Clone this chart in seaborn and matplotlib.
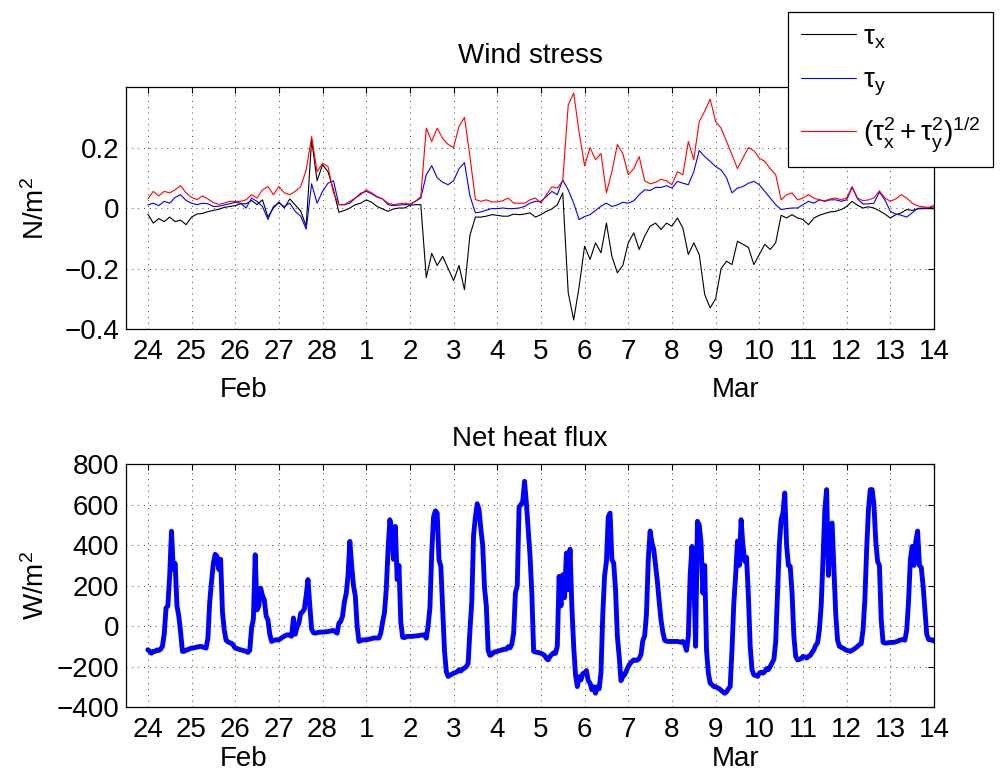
import numpy as np
import pandas as pd
import matplotlib
matplotlib.use("Agg")
import matplotlib.pyplot as plt
import matplotlib.dates as mdates
import matplotlib.transforms as mtransforms
from matplotlib.lines import Line2D
import seaborn as sns

# wind stress components (N/m^2), 3-hourly from 24 Feb 00:00 to 14 Mar 00:00
tau_x = [
    -0.02, -0.05, -0.035, -0.045, -0.03, -0.045, -0.04, -0.055,       # Feb 24
    -0.03, -0.02, -0.018, -0.012, -0.008, -0.004, 0.002, 0.005,       # Feb 25
    0.008, 0.014, 0.014, 0.025, 0.011, 0.027, -0.03, 0.0,             # Feb 26
    0.02, 0.0, 0.03, 0.01, -0.01, -0.06, 0.225, 0.09,                 # Feb 27
    0.143, 0.12, 0.06, -0.014, -0.008, 0.0, 0.011, 0.016,             # Feb 28
    0.027, 0.019, 0.005, -0.003, -0.011, -0.003, 0.0, 0.0,            # Mar 1
    0.009, 0.011, 0.011, -0.23, -0.15, -0.19, -0.16, -0.2,            # Mar 2
    -0.24, -0.19, -0.27, -0.09, -0.03, -0.03, -0.027, -0.022,         # Mar 3
    -0.024, -0.027, -0.027, -0.02, -0.022, -0.02, -0.016, -0.03,      # Mar 4
    -0.022, -0.011, -0.003, 0.011, 0.05, -0.28, -0.37, -0.26,         # Mar 5
    -0.126, -0.17, -0.115, -0.148, -0.05, -0.16, -0.214, -0.19,       # Mar 6
    -0.115, -0.082, -0.137, -0.093, -0.06, -0.05, -0.071, -0.05,      # Mar 7
    -0.06, -0.033, -0.066, -0.154, -0.115, -0.154, -0.286, -0.33,     # Mar 8
    -0.3, -0.2, -0.176, -0.187, -0.11, -0.12, -0.13, -0.187,          # Mar 9
    -0.154, -0.12, -0.137, -0.115, -0.024, -0.033, -0.022, -0.033,    # Mar 10
    -0.038, -0.055, -0.033, -0.024, -0.018, -0.013, -0.011, -0.005,   # Mar 11
    0.005, 0.022, 0.009, 0.0, 0.004, 0.0, -0.009, -0.02,              # Mar 12
    -0.033, -0.022, -0.016, -0.005, -0.008, -0.003, -0.002, -0.002,   # Mar 13
    -0.002,
]
tau_y = [
    0.01, 0.016, 0.008, 0.022, 0.016, 0.035, 0.044, 0.025,
    0.016, 0.011, 0.016, 0.014, 0.005, 0.006, 0.01, 0.014,
    0.019, 0.016, 0.0, 0.033, 0.022, 0.005, -0.038, 0.005,
    0.016, 0.005, 0.016, -0.011, -0.027, -0.07, 0.08, 0.016,
    0.055, 0.082, 0.09, 0.011, 0.011, 0.016, 0.033, 0.049,
    0.055, 0.047, 0.036, 0.03, 0.011, 0.008, 0.01, 0.011,
    0.011, 0.022, 0.033, 0.11, 0.14, 0.1, 0.085, 0.077,
    0.09, 0.13, 0.15, 0.04, -0.016, -0.013, -0.007, -0.002,
    -0.002, 0.0, -0.002, -0.002, 0.0, 0.005, 0.016, 0.022,
    0.022, 0.038, 0.055, 0.044, 0.093, 0.06, 0.016, -0.038,
    -0.028, -0.022, -0.008, 0.006, 0.016, 0.005, 0.01, 0.019,
    0.016, 0.024, 0.044, 0.06, 0.058, 0.068, 0.068, 0.074,
    0.066, 0.088, 0.082, 0.077, 0.12, 0.19, 0.17, 0.154,
    0.137, 0.126, 0.1, 0.05, 0.066, 0.071, 0.082, 0.088,
    0.077, 0.055, 0.033, 0.011, -0.005, -0.002, 0.0, 0.0,
    0.011, 0.022, 0.016, 0.027, 0.022, 0.027, 0.027, 0.022,
    0.027, 0.068, 0.03, 0.013, 0.014, 0.016, 0.053, 0.027,
    -0.011, -0.02, -0.024, -0.03, -0.016, -0.001, 0.0, 0.0,
    0.004,
]
tau_mag = [
    0.03, 0.055, 0.04, 0.055, 0.05, 0.06, 0.074, 0.05,
    0.035, 0.028, 0.04, 0.03, 0.018, 0.012, 0.016, 0.022,
    0.022, 0.022, 0.027, 0.044, 0.033, 0.06, 0.071, 0.044,
    0.071, 0.05, 0.044, 0.055, 0.071, 0.126, 0.236, 0.12,
    0.148, 0.137, 0.05, 0.011, 0.011, 0.022, 0.033, 0.044,
    0.06, 0.05, 0.038, 0.03, 0.016, 0.011, 0.014, 0.016,
    0.013, 0.022, 0.038, 0.264, 0.22, 0.264, 0.23, 0.21,
    0.2, 0.27, 0.3, 0.17, 0.028, 0.022, 0.027, 0.02,
    0.02, 0.024, 0.033, 0.016, 0.016, 0.016, 0.027, 0.033,
    0.016, 0.044, 0.07, 0.066, 0.09, 0.34, 0.38, 0.25,
    0.14, 0.2, 0.16, 0.18, 0.05, 0.12, 0.21, 0.18,
    0.11, 0.13, 0.17, 0.09, 0.08, 0.085, 0.095, 0.09,
    0.077, 0.12, 0.11, 0.22, 0.16, 0.286, 0.32, 0.36,
    0.286, 0.264, 0.22, 0.176, 0.13, 0.165, 0.2, 0.19,
    0.165, 0.154, 0.13, 0.11, 0.027, 0.044, 0.05, 0.027,
    0.033, 0.044, 0.033, 0.027, 0.024, 0.03, 0.033, 0.027,
    0.033, 0.071, 0.033, 0.024, 0.027, 0.033, 0.057, 0.033,
    0.022, 0.03, 0.044, 0.033, 0.016, 0.007, 0.004, 0.002,
    0.009,
]

# net heat flux (W/m^2), hourly from 24 Feb 00:00 to 14 Mar 00:00
heat_flux = [
    # Feb 24
    -117, -125, -134, -125, -125, -118, -120, -115, -100, -40, 90, 100,
    250, 469, 280, 310, 100, 50, -30, -125, -125, -118, -117, -112,
    # Feb 25
    -109, -108, -106, -104, -102, -100, -103, -106, -109, -60, 120, 220,
    310, 355, 345, 280, 330, 70, -20, -70, -78, -82, -85, -95,
    # Feb 26
    -109, -111, -115, -117, -120, -122, -125, -130, -120, -10, 35, 353,
    80, 100, 188, 150, 130, 50, 30, -40, -76, -72, -68, -68,
    # Feb 27
    -68, -62, -55, -50, -45, -43, -46, -50, 40, -40, -5, 15,
    64, 70, 85, 150, 230, 100, -15, -33, -35, -33, -30, -30,
    # Feb 28
    -30, -29, -28, -27, -25, -23, -22, -28, -35, 15, 23, 50,
    120, 160, 250, 419, 300, 200, 150, 0, -76, -72, -68, -68,
    # Mar 1
    -68, -66, -64, -62, -59, -59, -59, -59, -35, 20, 64, 180,
    378, 526, 480, 330, 493, 230, 300, 20, -55, -57, -52, -51,
    # Mar 2
    -51, -51, -50, -49, -48, -47, -45, -44, -43, -60, 0, 90,
    360, 540, 570, 559, 328, 295, 81, -120, -225, -249, -243, -238,
    # Mar 3
    -233, -230, -226, -216, -222, -212, -208, -200, -185, -20, 120, 450,
    540, 605, 576, 480, 400, 190, 100, -120, -145, -140, -130, -127,
    # Mar 4
    -125, -122, -120, -116, -115, -114, -102, -108, -90, -35, 165, 200,
    590, 600, 617, 716, 610, 480, 350, 163, -125, -128, -130, -132,
    # Mar 5
    -134, -139, -145, -160, -167, -150, -140, -132, -135, -100, 246, 100,
    254, 140, 361, 180, 380, 97, -100, -240, -299, -250, -266, -235,
    # Mar 6
    -233, -220, -270, -282, -315, -300, -332, -300, -310, -230, 60, 250,
    320, 540, 559, 330, 310, 180, -50, -150, -270, -250, -240, -220,
    # Mar 7
    -200, -185, -175, -167, -170, -168, -160, -140, -70, -50, 60, 330,
    470, 411, 380, 300, 220, 120, 30, -30, -70, -75, -76, -76,
    # Mar 8
    -76, -76, -76, -76, -78, -80, -76, -90, -120, -50, 250, 394,
    250, -100, 518, 500, 411, 163, 300, -120, -233, -282, -290, -299,
    # Mar 9
    -300, -305, -310, -318, -325, -332, -325, -310, -299, -117, 114, 250,
    420, 300, 526, 400, 320, 340, 150, -100, -216, -241, -245, -248,
    # Mar 10
    -233, -228, -233, -225, -210, -215, -200, -183, -165, -80, 160, 400,
    526, 560, 658, 400, 300, 295, 163, -50, -150, -167, -165, -160,
    # Mar 11
    -150, -152, -158, -150, -145, -130, -117, -95, -84, -20, 100, 328,
    576, 675, 250, 493, 510, 290, 60, -70, -100, -105, -109, -115,
    # Mar 12
    -120, -122, -125, -120, -114, -108, -100, -92, -87, -20, 130, 380,
    580, 675, 675, 600, 420, 320, 300, 31, -80, -84, -84, -82,
    # Mar 13
    -81, -81, -80, -78, -75, -70, -68, -66, -70, -20, 120, 328,
    394, 300, 420, 470, 300, 290, 200, 80, -40, -66, -68, -68,
    -75,
]

start = "2013-02-24"
wind_time = pd.date_range(start, periods=len(tau_x), freq="3h")
heat_time = pd.date_range(start, periods=len(heat_flux), freq="1h")
day_ticks = pd.date_range(start, "2013-03-14", freq="D")
month_labels = ["Feb", "Mar"]
month_pos = [pd.Timestamp("2013-02-26 04:30"), pd.Timestamp("2013-03-09 10:45")]

sns.set_style("white")
plt.rcParams["font.family"] = ["Liberation Sans", "DejaVu Sans"]
plt.rcParams["mathtext.fontset"] = "custom"
plt.rcParams["mathtext.rm"] = "Liberation Sans"
plt.rcParams["mathtext.it"] = "Liberation Sans"
plt.rcParams["mathtext.default"] = "regular"
plt.rcParams["text.color"] = "k"
plt.rcParams["axes.labelcolor"] = "k"

FS = 20

fig = plt.figure(figsize=(10, 7.74), dpi=100)
ax1 = fig.add_axes([0.126, 0.5749, 0.808, 0.3127])
ax2 = fig.add_axes([0.126, 0.0866, 0.808, 0.3135])

sns.lineplot(x=wind_time, y=tau_x, ax=ax1, color="k", lw=0.8, legend=False)
sns.lineplot(x=wind_time, y=tau_y, ax=ax1, color="#0000ff", lw=0.8, legend=False)
sns.lineplot(x=wind_time, y=tau_mag, ax=ax1, color="#ff0000", lw=0.8, legend=False)
sns.lineplot(x=heat_time, y=heat_flux, ax=ax2, color="#0000ff", lw=3.5, legend=False)


def style_axis(ax, yticks, ylabels, title, title_pad, ylab, month_y):
    ax.set_xlim(pd.Timestamp("2013-02-23 12:00"), pd.Timestamp("2013-03-14"))
    ax.set_xticks(day_ticks)
    ax.set_xticklabels([str(d.day) for d in day_ticks])
    ax.set_yticks(yticks)
    ax.set_yticklabels(ylabels)
    ax.tick_params(direction="in", length=4, width=0.8, top=True, right=True,
                   labelsize=FS, pad=5, colors="k")
    ax.tick_params(axis="x", pad=7)
    ax.grid(True, linestyle=(0, (1, 5)), color="0.25", linewidth=0.7)
    for sp in ax.spines.values():
        sp.set_color("k")
        sp.set_linewidth(0.9)
    ax.set_title(title, fontsize=FS, pad=title_pad, color="k")
    ax.set_xlabel("")
    ax.set_ylabel(ylab, fontsize=FS)
    ax.yaxis.set_label_coords(-0.094, 0.5)
    trans = mtransforms.blended_transform_factory(ax.transData, ax.transAxes)
    for lab, pos in zip(month_labels, month_pos):
        ax.text(mdates.date2num(pos), month_y, lab, transform=trans,
                ha="center", va="baseline", fontsize=FS)


style_axis(ax1, [-0.4, -0.2, 0, 0.2], ["\u22120.4", "\u22120.2", "0", "0.2"],
           "Wind stress", 17, "N/m$^2$", -0.28)
ax1.set_ylim(-0.4, 0.4)
style_axis(ax2, [-400, -200, 0, 200, 400, 600, 800],
           ["\u2212400", "\u2212200", "0", "200", "400", "600", "800"],
           "Net heat flux", 13, "W/m$^2$", -0.245)
ax2.set_ylim(-400, 800)

handles = [Line2D([], [], color="k", lw=0.8),
           Line2D([], [], color="#0000ff", lw=0.8),
           Line2D([], [], color="#ff0000", lw=0.8)]
labels = [r"$\tau_x$", r"$\tau_y$", r"$(\tau_x^2 + \tau_y^2)^{1/2}$"]
leg = fig.legend(handles, labels, loc="upper left", bbox_to_anchor=(0.788, 0.985),
                 borderaxespad=0, fontsize=FS, frameon=True, fancybox=False,
                 edgecolor="k", framealpha=1, handlelength=2.0, handletextpad=0.25,
                 labelspacing=0.6, borderpad=0.45)
leg.get_frame().set_linewidth(0.9)

fig.savefig("out.png", dpi=100)
